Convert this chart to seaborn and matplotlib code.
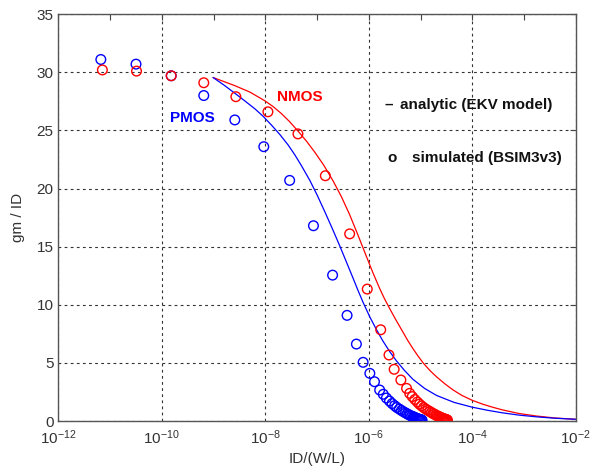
import numpy as np
import pandas as pd
import matplotlib
matplotlib.use("Agg")
import matplotlib.pyplot as plt
import matplotlib.ticker as mticker
import seaborn as sns

# values, x as log10(ID/(W/L))
nmos_sim_logid = [-11.15, -10.49, -9.82, -9.19, -8.57, -7.95, -7.37, -6.84, -6.37, -6.03,
                  -5.77, -5.61, -5.51, -5.38, -5.27, -5.21, -5.16, -5.11, -5.06, -5.02,
                  -4.98, -4.94, -4.90, -4.86, -4.82, -4.79, -4.76, -4.73, -4.70, -4.68,
                  -4.65, -4.63, -4.61, -4.59, -4.57, -4.55, -4.53, -4.52, -4.50, -4.49,
                  -4.48]
nmos_sim_gm = [30.2, 30.1, 29.7, 29.1, 27.9, 26.6, 24.7, 21.1, 16.1, 11.35,
               7.85, 5.68, 4.45, 3.53, 2.81, 2.38, 2.1, 1.85, 1.63, 1.45,
               1.3, 1.16, 1.03, 0.92, 0.82, 0.73, 0.65, 0.58, 0.51, 0.45,
               0.40, 0.35, 0.31, 0.27, 0.23, 0.20, 0.17, 0.14, 0.12, 0.10,
               0.08]

pmos_sim_logid = [-11.18, -10.50, -9.82, -9.19, -8.59, -8.03, -7.53, -7.07, -6.70, -6.42,
                  -6.24, -6.11, -5.98, -5.89, -5.79, -5.72, -5.66, -5.60, -5.55, -5.50,
                  -5.46, -5.41, -5.37, -5.33, -5.29, -5.26, -5.23, -5.20, -5.17, -5.14,
                  -5.12, -5.10, -5.08, -5.06, -5.04, -5.02, -5.01, -4.99, -4.98, -4.97]
pmos_sim_gm = [31.1, 30.7, 29.7, 28.0, 25.9, 23.6, 20.7, 16.8, 12.55, 9.09,
               6.62, 5.05, 4.1, 3.38, 2.67, 2.3, 1.98, 1.72, 1.5, 1.32,
               1.17, 1.03, 0.91, 0.80, 0.70, 0.62, 0.55, 0.48, 0.42, 0.37,
               0.32, 0.28, 0.24, 0.21, 0.18, 0.15, 0.13, 0.11, 0.09, 0.07]

nmos_ekv_logid = [-9.01, -8.80, -8.59, -8.30, -8.01, -7.85, -7.69, -7.53, -7.37, -7.20,
                  -7.04, -6.87, -6.69, -6.53, -6.37, -6.21, -6.05, -5.92, -5.79, -5.70,
                  -5.60, -5.47, -5.34, -5.25, -5.15, -5.05, -4.95, -4.82, -4.69, -4.53,
                  -4.37, -4.20, -4.01, -3.80, -3.60, -3.41, -3.10, -2.76, -2.40, -2.0]
nmos_ekv_gm = [29.55, 29.2, 28.85, 28.3, 27.55, 27.05, 26.45, 25.75, 24.95, 24.05,
               23.1, 22.0, 20.65, 19.3, 17.75, 16.0, 14.2, 12.75, 11.4, 10.55,
               9.7, 8.65, 7.65, 6.95, 6.25, 5.6, 5.0, 4.35, 3.8, 3.2,
               2.67, 2.2, 1.8, 1.45, 1.18, 0.95, 0.65, 0.43, 0.26, 0.15]

pmos_ekv_logid = [-9.01, -8.80, -8.59, -8.40, -8.20, -8.04, -7.88, -7.72, -7.56, -7.43,
                  -7.30, -7.14, -7.00, -6.85, -6.70, -6.56, -6.43, -6.31, -6.21, -6.11,
                  -5.98, -5.85, -5.73, -5.60, -5.47, -5.31, -5.15, -4.92, -4.69, -4.35,
                  -4.01, -3.70, -3.41, -3.10, -2.76, -2.40, -2.0]
pmos_ekv_gm = [29.55, 28.9, 28.2, 27.55, 26.85, 26.2, 25.45, 24.65, 23.75, 22.9,
               21.95, 20.7, 19.45, 18.0, 16.5, 15.05, 13.65, 12.35, 11.25, 10.2,
               8.95, 7.85, 6.9, 6.0, 5.2, 4.35, 3.6, 2.8, 2.2, 1.6,
               1.2, 0.92, 0.7, 0.51, 0.36, 0.24, 0.15]

x_ticks = [1e-12, 1e-10, 1e-8, 1e-6, 1e-4, 1e-2]
x_minor = [1e-11, 1e-9, 1e-7, 1e-5, 1e-3]
y_ticks = [0, 5, 10, 15, 20, 25, 30, 35]

sim = pd.concat([
    pd.DataFrame({"id": 10.0 ** np.array(nmos_sim_logid), "gm": nmos_sim_gm, "dev": "NMOS"}),
    pd.DataFrame({"id": 10.0 ** np.array(pmos_sim_logid), "gm": pmos_sim_gm, "dev": "PMOS"}),
])
ekv = pd.concat([
    pd.DataFrame({"id": 10.0 ** np.array(nmos_ekv_logid), "gm": nmos_ekv_gm, "dev": "NMOS"}),
    pd.DataFrame({"id": 10.0 ** np.array(pmos_ekv_logid), "gm": pmos_ekv_gm, "dev": "PMOS"}),
])
colors = {"NMOS": "#ff0000", "PMOS": "#0000ff"}

sns.set_style("white")
plt.rcParams["font.family"] = ["Liberation Sans", "DejaVu Sans"]

fig = plt.figure(figsize=(5.96, 4.72), dpi=100)
ax = fig.add_axes([0.098, 0.108, 0.868, 0.862])

sns.lineplot(data=ekv, x="id", y="gm", hue="dev", palette=colors, estimator=None,
             sort=False, legend=False, lw=0.9, ax=ax)
for dev in ["PMOS", "NMOS"]:
    d = sim[sim["dev"] == dev]
    sns.scatterplot(x=d["id"], y=d["gm"], ax=ax, s=48, facecolors="none",
                    edgecolor=colors[dev], linewidth=1.0, zorder=3)

ax.set_xscale("log")
ax.set_xlim(1e-12, 1e-2)
ax.set_ylim(0, 35)
ax.xaxis.set_major_locator(mticker.FixedLocator(x_ticks))
ax.xaxis.set_minor_locator(mticker.FixedLocator(x_minor))
ax.xaxis.set_minor_formatter(mticker.NullFormatter())
ax.set_yticks(y_ticks)

ax.grid(True, which="major", color="#333333", linestyle=(0, (2.5, 3)), lw=0.8)
ax.tick_params(which="both", direction="in", top=True, right=True, colors="#444444",
               labelcolor="#333333", labelsize=11, length=4, width=0.8)
ax.tick_params(axis="x", pad=5)
for s in ax.spines.values():
    s.set_color("#555555")
    s.set_linewidth(1.0)

ax.set_xlabel("ID/(W/L)", fontsize=11, color="#333333", labelpad=4)
ax.set_ylabel("gm / ID", fontsize=11, color="#333333", labelpad=8)

ax.text(10 ** -7.78, 27.9, "NMOS", color="#ff0000", fontsize=11, fontweight="bold",
        va="center", ha="left")
ax.text(10 ** -9.84, 26.1, "PMOS", color="#0000ff", fontsize=11, fontweight="bold",
        va="center", ha="left")
ax.text(10 ** -5.69, 27.2, "–", color="#111111", fontsize=11, fontweight="bold",
        va="center", ha="left")
ax.text(10 ** -5.39, 27.2, "analytic (EKV model)", color="#111111", fontsize=11,
        fontweight="bold", va="center", ha="left")
ax.text(10 ** -5.65, 22.6, "o", color="#111111", fontsize=11, fontweight="bold",
        va="center", ha="left")
ax.text(10 ** -5.16, 22.6, "simulated (BSIM3v3)", color="#111111", fontsize=11,
        fontweight="bold", va="center", ha="left")

fig.savefig("out.png", dpi=100)
